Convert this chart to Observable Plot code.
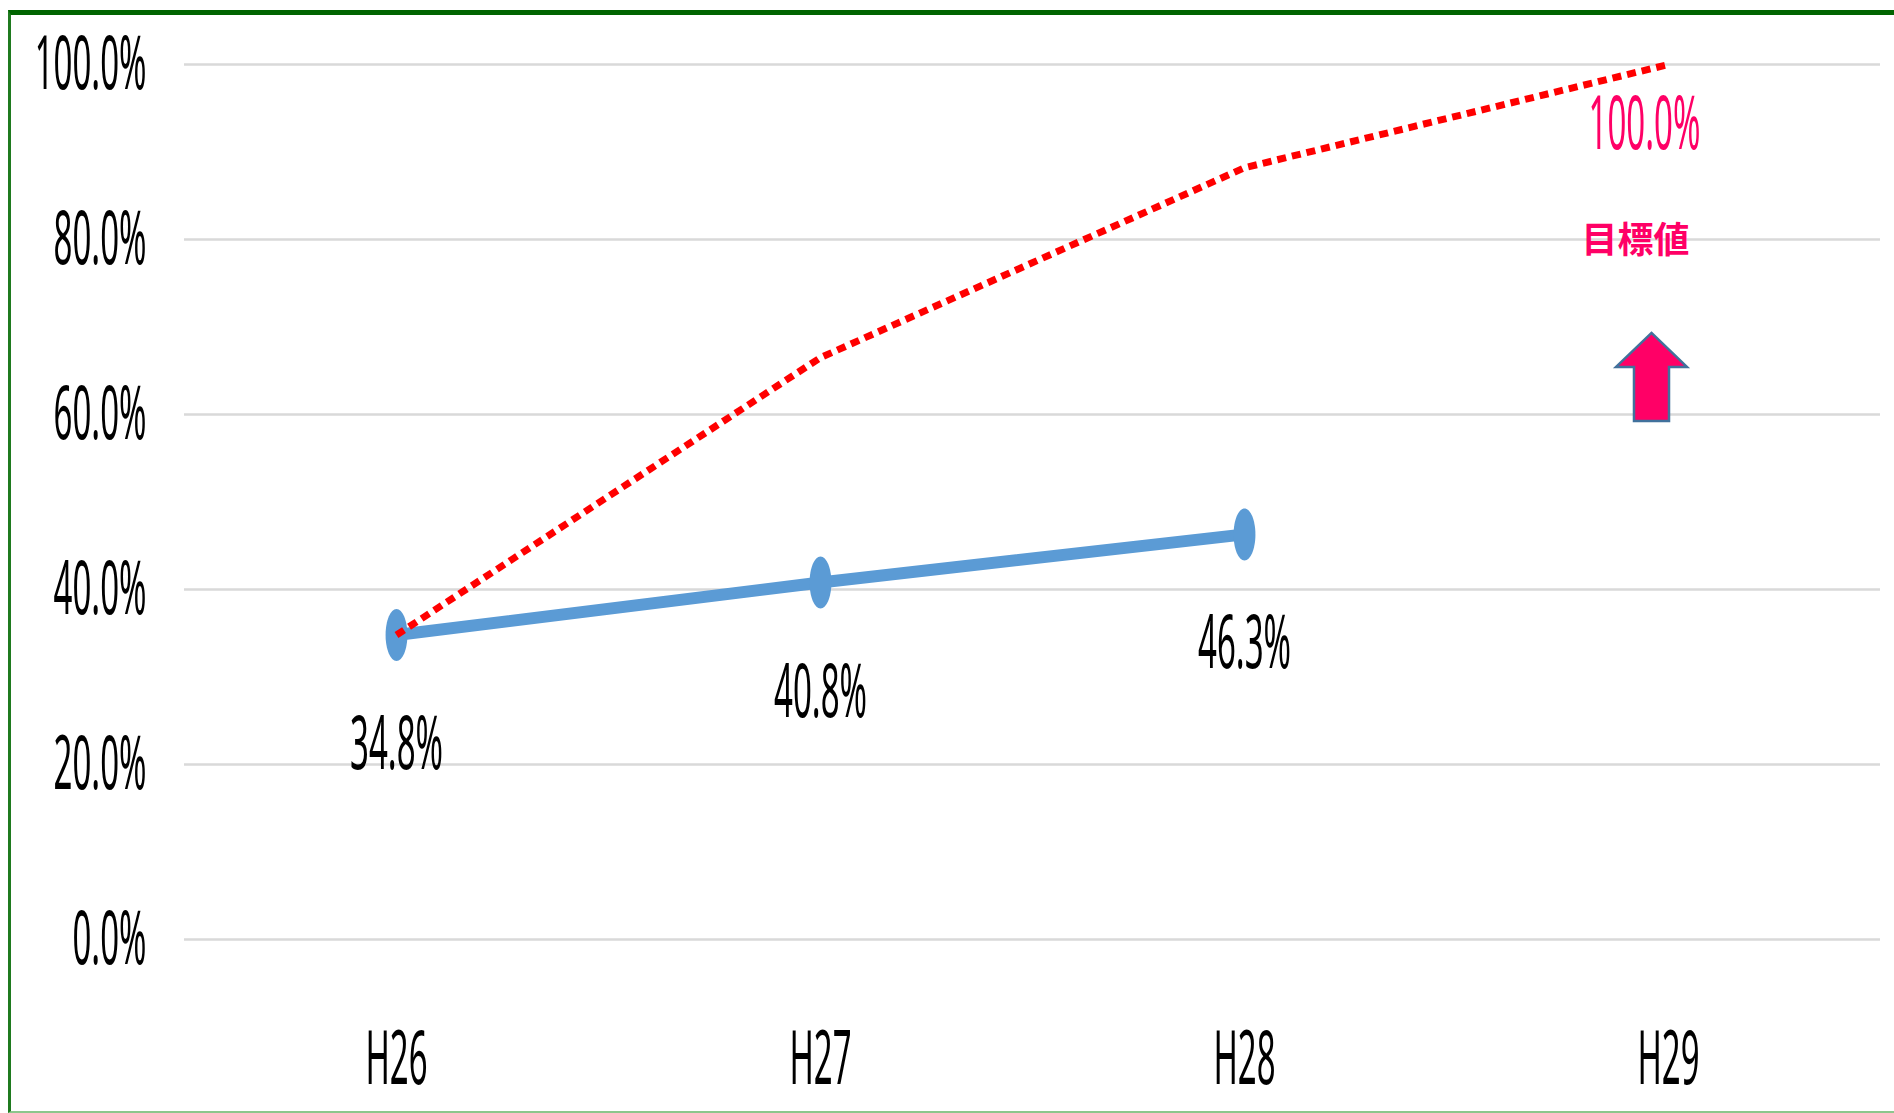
<!DOCTYPE html>
<html>
<head>
<meta charset="utf-8">
<script src="https://cdn.jsdelivr.net/npm/d3@7"></script>
<script src="https://cdn.jsdelivr.net/npm/@observablehq/plot@0.6"></script>
<style>
  html, body { margin: 0; padding: 0; background: #fff; }
  #wrap { position: relative; width: 1894px; height: 1113px; overflow: hidden; }
  #frame { position: absolute; left: 8px; top: 10px; width: 2000px; height: 1103px; box-sizing: border-box;
           border-top: 5px solid #006400; border-left: 3px solid #1f7a1f; border-bottom: 2px solid #8cc68c;
           pointer-events: none; }
</style>
</head>
<body>
<div id="wrap"><div id="frame"></div></div>
<script>
// ---- data ----
const years = ["H26", "H27", "H28", "H29"];
const actualYears = ["H26", "H27", "H28"];
const actualValues = [34.8, 40.8, 46.3];
const targetValues = [34.8, 66.5, 88.2, 100.0];
const yTicks = [0, 20, 40, 60, 80, 100];
const targetLabelText = "目標値";
const targetLabelPos = [{x: "H29", y: 80}];
const arrowPos = [{x: "H29", y: 64.3}];

const actual = actualYears.map((x, i) => ({x, y: actualValues[i]}));
const target = years.map((x, i) => ({x, y: targetValues[i]}));
const fmt = d => d.toFixed(1) + "%";

// custom symbols
const ellipse = {
  draw(ctx, size) {
    const r = Math.sqrt(size / Math.PI);
    const rx = r * 0.42, ry = r, k = 0.5523;
    ctx.moveTo(0, -ry);
    ctx.bezierCurveTo(k * rx, -ry, rx, -k * ry, rx, 0);
    ctx.bezierCurveTo(rx, k * ry, k * rx, ry, 0, ry);
    ctx.bezierCurveTo(-k * rx, ry, -rx, k * ry, -rx, 0);
    ctx.bezierCurveTo(-rx, -k * ry, -k * rx, -ry, 0, -ry);
    ctx.closePath();
  }
};
const upArrow = {
  draw(ctx, size) {
    const r = Math.sqrt(size / Math.PI);
    const hb = -0.227 * r, hw = 0.807 * r, sw = 0.398 * r;
    ctx.moveTo(0, -r);
    ctx.lineTo(hw, hb);
    ctx.lineTo(sw, hb);
    ctx.lineTo(sw, r);
    ctx.lineTo(-sw, r);
    ctx.lineTo(-sw, hb);
    ctx.lineTo(-hw, hb);
    ctx.closePath();
  }
};

const chart = Plot.plot({
  width: 1894,
  height: 1113,
  marginLeft: 184,
  marginRight: 14,
  marginTop: 64,
  marginBottom: 174,
  style: {fontFamily: "'Noto Sans', sans-serif", fontSize: "75px", color: "#000", background: "transparent"},
  x: {type: "point", domain: years, padding: 0.5, label: null},
  y: {domain: [0, 100], label: null},
  marks: [
    Plot.gridY(yTicks, {stroke: "#d9d9d9", strokeOpacity: 1, strokeWidth: 2.5}),
    Plot.axisY(yTicks, {tickSize: 0, tickPadding: 38, tickFormat: fmt, label: null, fontSize: 75}),
    Plot.axisX({tickSize: 0, tickPadding: 91, label: null, fontSize: 75}),
    Plot.line(actual, {x: "x", y: "y", stroke: "#5B9BD5", strokeWidth: 12, strokeLinecap: "butt"}),
    Plot.dot(actual, {x: "x", y: "y", symbol: ellipse, r: 26, fill: "#5B9BD5", stroke: null}),
    Plot.line(target, {x: "x", y: "y", stroke: "#FF0000", strokeWidth: 7, strokeDasharray: "9,6", strokeLinecap: "butt"}),
    Plot.text(actual, {x: "x", y: "y", text: d => fmt(d.y), dy: 110, fontSize: 75, fill: "#000", lineAnchor: "middle"}),
    Plot.text([target[target.length - 1]], {x: "x", y: "y", text: d => fmt(d.y), dy: 60, dx: -24, fontSize: 75, fill: "#FF0066", lineAnchor: "middle"}),
    Plot.text(targetLabelPos, {x: "x", y: "y", text: () => targetLabelText, dx: -33, dy: 2, fontSize: 36, fontWeight: "bold",
      fontFamily: "'Noto Sans CJK JP', sans-serif", fill: "#FF0066", lineAnchor: "middle"}),
    Plot.dot(arrowPos, {x: "x", y: "y", symbol: upArrow, r: 44, dx: -17, fill: "#FF0066", stroke: "#41719C", strokeWidth: 2.5})
  ]
});

document.getElementById("wrap").insertBefore(chart, document.getElementById("frame"));

// narrow, tall lettering like the reference
d3.select(chart).selectAll("text").each(function () {
  if (this.textContent.includes("目")) return;
  const w = this.getComputedTextLength();
  if (w > 0) {
    this.setAttribute("textLength", (w * 0.44).toFixed(1));
    this.setAttribute("lengthAdjust", "spacingAndGlyphs");
  }
});
</script>
</body>
</html>
